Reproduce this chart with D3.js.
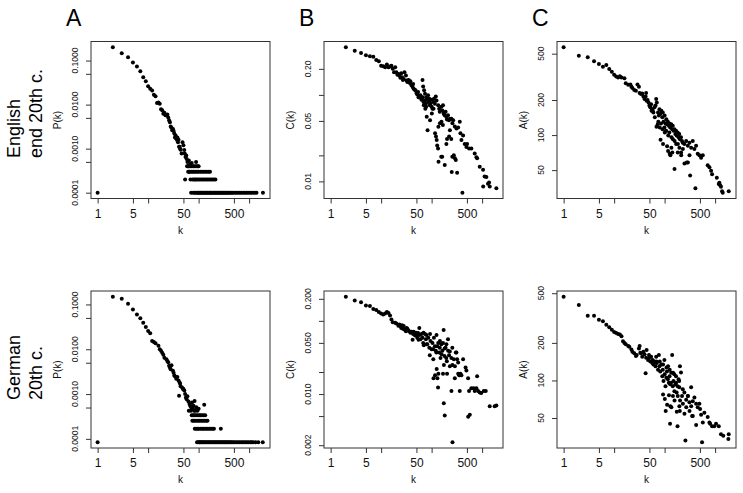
<!DOCTYPE html>
<html>
<head>
<meta charset="utf-8">
<script src="https://cdn.jsdelivr.net/npm/d3@7"></script>
<style>
  body { margin: 0; background: #fff; }
  svg { display: block; font-family: "Liberation Sans", Arial, Helvetica, sans-serif; }
</style>
</head>
<body>
<div id="chart"></div>
<script>
// --- data: [k, value] ---
const xTicks = [1, 5, 10, 50, 100, 500, 1000];
const xLabels = [1, 5, 50, 500];

const pTicks = [0.1, 0.05, 0.01, 0.005, 0.001, 0.0005, 0.0001];
const pLabels = [[0.1, '0.1000'], [0.01, '0.0100'], [0.001, '0.0010'], [0.0001, '0.0001']];
const enCTicks = [0.2, 0.1, 0.05, 0.02, 0.01];
const enCLabels = [[0.2, '0.20'], [0.05, '0.05'], [0.01, '0.01']];
const deCTicks = [0.2, 0.1, 0.05, 0.02, 0.01, 0.005, 0.002];
const deCLabels = [[0.2, '0.200'], [0.05, '0.050'], [0.01, '0.010'], [0.002, '0.002']];
const aTicks = [500, 200, 100, 50];
const aLabels = [[500, '500'], [200, '200'], [100, '100'], [50, '50']];

const rowLabels = [['English', 'end 20th c.'], ['German', '20th c.']];
const colLetters = ['A', 'B', 'C'];
const yTitles = ['P(k)', 'C(k)', 'A(k)'];

const enP = [[1,0.0001],[2,0.2],[3,0.147],[4,0.119],[5,0.09],[6,0.073],[7,0.057],[8,0.042],[9,0.034],[10,0.026],[11,0.023],[12,0.021],[13,0.0168],[14,0.0155],[15,0.0109],[16,0.0112],[17,0.0105],[18,0.0078],[19,0.0074],[20,0.0062],[21,0.0065],[22,0.0057],[24,0.006],[25,0.0051],[26,0.0044],[27,0.004],[28,0.0032],[29,0.003],[30,0.0026],[31,0.0028],[32,0.0025],[33,0.0022],[34,0.0018],[35,0.002],[36,0.0017],[37,0.0016],[38,0.0018],[39,0.0014],[40,0.0016],[41,0.0011],[42,0.0011],[43,0.001],[44,0.00095],[46,0.00078],[48,0.0014],[50,0.0012],[52,0.00093],[53,0.00078],[55,0.00065],[57,0.0007],[58,0.00058],[60,0.0005],[64,0.00054],[68,0.00045],[73,0.00047],[89,0.0005],
  [59,0.0004],[61,0.0004],[63,0.0004],[66,0.0004],[70,0.0004],[74,0.0004],[79,0.0004],[84,0.0004],[90,0.0004],[96,0.0004],[100,0.0004],
  [62,0.0003],[65,0.0003],[67,0.0003],[72,0.0003],[77,0.0003],[81,0.0003],[87,0.0003],[93,0.0003],[99,0.0003],[108,0.0003],[116,0.0003],[125,0.0003],[135,0.0003],[145,0.0003],[157,0.0003],[168,0.0003],
  [54,0.0002],[69,0.0002],[76,0.0002],[82,0.0002],[86,0.0002],[92,0.0002],[98,0.0002],[105,0.0002],[113,0.0002],[121,0.0002],[130,0.0002],[140,0.0002],[150,0.0002],[161,0.0002],[173,0.0002],[186,0.0002],[200,0.0002],[215,0.0002],
  [71,0.0001],[78,0.0001],[83,0.0001],[88,0.0001],[94,0.0001],[97,0.0001],[102,0.0001],[107,0.0001],[111,0.0001],[117,0.0001],[122,0.0001],[128,0.0001],[134,0.0001],[141,0.0001],[147,0.0001],[154,0.0001],[163,0.0001],[170,0.0001],[176,0.0001],[184,0.0001],[193,0.0001],[202,0.0001],[211,0.0001],[221,0.0001],[232,0.0001],[243,0.0001],[254,0.0001],[266,0.0001],[279,0.0001],[292,0.0001],[306,0.0001],[320,0.0001],[336,0.0001],[352,0.0001],[368,0.0001],[386,0.0001],[404,0.0001],[430,0.0001],[455,0.0001],[480,0.0001],[520,0.0001],[560,0.0001],[600,0.0001],[650,0.0001],[700,0.0001],[760,0.0001],[820,0.0001],[880,0.0001],[950,0.0001],[1030,0.0001],[1110,0.0001],[1200,0.0001],[1300,0.0001],[1400,0.0001],[1880,0.0001]];

const enC = [[2,0.355],[3,0.325],[4,0.305],[5,0.287],[6,0.28],[7,0.277],[8,0.254],[9,0.245],[10,0.218],[11,0.215],[12,0.209],[13,0.224],[14,0.209],[15,0.213],[16,0.218],[17,0.2],[18,0.183],[19,0.209],[20,0.183],[21,0.171],[22,0.175],[23,0.168],[24,0.158],[25,0.178],[26,0.16],[27,0.149],[28,0.153],[29,0.183],[31,0.168],[32,0.147],[33,0.141],[35,0.149],[37,0.137],[38,0.144],[40,0.129],[42,0.123],[43,0.134],[44,0.118],[46,0.115],[48,0.113],[50,0.105],[52,0.101],[54,0.108],[57,0.096],[58,0.093],[60,0.099],[63,0.088],[66,0.149],[68,0.125],[71,0.113],[74,0.103],[69,0.083],[73,0.086],[77,0.079],[79,0.094],[82,0.088],[86,0.083],[90,0.09],[92,0.076],[95,0.079],[100,0.073],[104,0.069],[108,0.083],[111,0.09],[116,0.079],[121,0.096],[125,0.086],[135,0.076],[141,0.069],[145,0.064],[156,0.073],[163,0.066],[168,0.076],[173,0.061],[181,0.058],[189,0.064],[195,0.056],[201,0.052],[211,0.058],[221,0.051],[229,0.053],[246,0.053],[258,0.047],[267,0.051],[288,0.043],[310,0.041],[335,0.042],[361,0.049],[372,0.036],[389,0.03],[420,0.034],[452,0.027],[488,0.025],[504,0.027],[551,0.024],[612,0.024],[713,0.021],[771,0.019],[796,0.0185],[897,0.0148],[1044,0.0136],[1120,0.0114],[1215,0.0112],[1306,0.0094],[1373,0.0097],[1414,0.0087],[1050,0.0087],[1915,0.0083],[407,0.0074],
  [80,0.056],[83,0.039],[93,0.051],[101,0.061],[109,0.069],[117,0.036],[122,0.033],[126,0.03],[129,0.026],[134,0.024],[137,0.0169],[155,0.0193],[162,0.0193],[182,0.0155],[196,0.027],[202,0.031],[222,0.033],[230,0.039],[245,0.031],[257,0.0193],[275,0.02],[289,0.0185],[301,0.0177],[250,0.0128],[320,0.0126],[167,0.045],[146,0.047],[136,0.0427],[157,0.049],
  [55,0.094],[67,0.094],[78,0.073],[85,0.099],[91,0.086],[70,0.076],[75,0.069],[99,0.088]];

const enA = [[1,567],[2,481],[3,465],[4,430],[5,408],[6,387],[7,400],[8,370],[9,350],[10,330],[11,319],[12,312],[13,320],[14,312],[16,307],[17,278],[19,270],[21,272],[22,260],[23,254],[25,244],[27,240],[29,272],[31,260],[32,230],[34,225],[36,228],[38,214],[40,204],[42,214],[43,230],[44,197],[46,200],[48,190],[50,179],[52,173],[54,184],[57,167],[58,162],[60,156],[63,173],[66,179],[68,204],[70,190],[74,156],[77,147],[79,167],[82,152],[86,162],[90,142],[92,156],[95,130],[100,147],[104,126],[108,137],[111,124],[116,130],[121,120],[125,126],[129,116],[135,124],[141,112],[145,120],[150,109],[156,112],[163,102],[168,109],[173,99],[181,105],[189,96],[195,102],[201,92],[211,96],[221,89],[229,86],[246,84],[267,89],[288,81],[310,86],[335,78],[361,89],[389,76],[420,81],[452,69],[488,67],[528,64],[570,67],[713,55],[771,53],[832,49.4],[870,46],[1080,43],[1180,38],[1215,39],[1260,37],[1306,36],[1373,33],[1414,32],[1860,33],
  [83,91],[93,84],[112,80],[126,69],[130,67],[136,78],[142,71],[157,51],[182,71],[196,78],[212,71],[230,76],[247,57],[275,58],[289,58],[311,67],[320,45],[407,35],[169,84],[146,92],[117,73],[69,118],[75,130],[80,116],[91,112],[101,105],[118,99],[137,96],[158,89],[183,84],[213,67],
  [55,162],[64,142],[73,124],[85,126],[99,116],[107,109],[124,105]];

const deP = [[1,0.0000843],[2,0.148],[3,0.134],[4,0.103],[5,0.0774],[6,0.06],[7,0.0489],[8,0.0391],[9,0.0313],[10,0.0255],[11,0.0227],[12,0.0153],[13,0.0146],[14,0.0136],[16,0.0119],[17,0.01],[18,0.0092],[19,0.0084],[20,0.0075],[21,0.0065],[23,0.006],[24,0.0055],[25,0.0051],[26,0.0043],[27,0.0039],[28,0.0036],[29,0.0044],[31,0.0033],[32,0.003],[33,0.0026],[34,0.0025],[36,0.0022],[38,0.0024],[40,0.002],[42,0.0018],[43,0.0017],[44,0.0015],[47,0.0014],[49,0.0013],[50,0.0013],[52,0.0012],[41,0.00092],[54,0.001],[56,0.00084],[58,0.00077],[60,0.00089],[63,0.00068],[66,0.0006],[68,0.00055],[71,0.00051],[74,0.00065],[77,0.00047],[79,0.00055],[83,0.0007],[90,0.00051],[129,0.00058],[100,0.00047],
  [64,0.000422],[70,0.000422],[81,0.000422],[86,0.000422],[95,0.000422],
  [73,0.000337],[78,0.000337],[82,0.000337],[88,0.000337],[94,0.000337],[102,0.000337],[108,0.000337],[116,0.000337],[125,0.000337],[135,0.000337],
  [75,0.000253],[80,0.000253],[85,0.000253],[92,0.000253],[99,0.000253],[106,0.000253],[114,0.000253],[122,0.000253],[131,0.000253],[141,0.000253],[150,0.000253],
  [84,0.000169],[89,0.000169],[96,0.000169],[101,0.000169],[109,0.000169],[117,0.000169],[124,0.000169],[133,0.000169],[143,0.000169],[153,0.000169],[164,0.000169],[176,0.000169],[189,0.000169],[201,0.000169],[275,0.000169],
  [93,0.0000843],[97,0.0000843],[103,0.0000843],[105,0.0000843],[110,0.0000843],[115,0.0000843],[120,0.0000843],[126,0.0000843],[132,0.0000843],[138,0.0000843],[145,0.0000843],[152,0.0000843],[159,0.0000843],[167,0.0000843],[175,0.0000843],[184,0.0000843],[193,0.0000843],[202,0.0000843],[212,0.0000843],[222,0.0000843],[233,0.0000843],[245,0.0000843],[257,0.0000843],[270,0.0000843],[283,0.0000843],[297,0.0000843],[312,0.0000843],[327,0.0000843],[343,0.0000843],[360,0.0000843],[378,0.0000843],[397,0.0000843],[417,0.0000843],[438,0.0000843],[460,0.0000843],[490,0.0000843],[520,0.0000843],[560,0.0000843],[600,0.0000843],[640,0.0000843],[690,0.0000843],[740,0.0000843],[790,0.0000843],[850,0.0000843],[910,0.0000843],[980,0.0000843],[1060,0.0000843],[1130,0.0000843],[1200,0.0000843],[1340,0.0000843],[1520,0.0000843],[1860,0.0000843]];

const deC = [[2,0.213],[3,0.19],[4,0.18],[5,0.162],[6,0.16],[7,0.145],[8,0.141],[9,0.132],[10,0.126],[11,0.122],[12,0.126],[13,0.132],[14,0.128],[15,0.118],[16,0.104],[17,0.096],[19,0.094],[20,0.092],[22,0.086],[23,0.089],[24,0.085],[25,0.08],[26,0.087],[27,0.078],[28,0.085],[29,0.076],[31,0.072],[32,0.08],[33,0.078],[34,0.075],[36,0.072],[38,0.069],[40,0.071],[42,0.055],[43,0.066],[44,0.071],[47,0.063],[49,0.069],[50,0.064],[52,0.059],[54,0.068],[57,0.08],[58,0.064],[60,0.056],[63,0.066],[66,0.059],[68,0.05],[70,0.0465],[74,0.066],[77,0.056],[79,0.064],[82,0.048],[86,0.059],[90,0.043],[92,0.034],[95,0.053],[100,0.041],[104,0.05],[108,0.03],[111,0.059],[116,0.045],[121,0.039],[125,0.064],[129,0.045],[135,0.05],[141,0.037],[145,0.043],[150,0.031],[156,0.048],[163,0.039],[173,0.075],[181,0.042],[189,0.043],[195,0.031],[211,0.056],[221,0.034],[229,0.038],[246,0.031],[258,0.025],[275,0.03],[301,0.037],[320,0.03],[335,0.027],[350,0.018],[372,0.019],[389,0.018],[420,0.03],[470,0.023],[488,0.021],[528,0.0164],[551,0.011],[612,0.012],[680,0.012],[713,0.011],[771,0.012],[796,0.0175],[832,0.011],[897,0.0105],[962,0.0103],[1080,0.011],[1180,0.011],[1414,0.0068],[1770,0.0068],[1915,0.007],
  [174,0.0075],[182,0.0051],[259,0.0022],[529,0.0049],[570,0.0052],[126,0.022],[130,0.0164],[109,0.0164],[117,0.018],[136,0.019],[134,0.0123],[168,0.019],[202,0.019],[247,0.011],[361,0.011],[288,0.0164],[336,0.019],[175,0.025],[200,0.028],[230,0.024],[257,0.043],[289,0.024],[310,0.037],[362,0.018],
  [55,0.055],[69,0.069],[80,0.048],[93,0.066],[107,0.041],[124,0.037],[146,0.053],[168,0.05],[196,0.048],[212,0.039],[180,0.033],[157,0.035]];

const deA = [[1,468],[2,402],[3,330],[4,330],[5,306],[6,298],[7,279],[8,267],[9,255],[10,245],[11,240],[12,236],[13,233],[14,226],[15,206],[16,200],[17,195],[19,189],[20,186],[22,177],[23,170],[25,165],[27,157],[28,160],[31,180],[32,189],[33,167],[34,165],[36,155],[38,170],[40,162],[42,114],[43,152],[44,175],[47,146],[49,160],[50,152],[52,142],[54,155],[57,138],[58,146],[60,134],[63,142],[66,130],[68,155],[70,138],[74,122],[77,160],[79,130],[82,118],[86,134],[90,108],[92,122],[95,99],[100,112],[104,90],[108,105],[111,118],[116,102],[121,96],[125,108],[129,93],[135,115],[141,160],[145,90],[150,99],[156,82],[163,93],[168,108],[173,80],[181,90],[189,102],[195,88],[201,130],[211,116],[221,75],[229,85],[246,80],[267,70],[288,75],[310,67],[335,88],[361,68],[389,73],[420,65],[452,61],[488,65],[504,59],[528,53],[570,46],[612,55],[713,51],[771,46],[796,45],[870,43],[962,43],[1044,45],[1180,43],[1306,37],[1450,36],[1860,37],[1830,34],
  [93,77],[101,71],[105,57],[112,64],[122,76],[130,62],[136,61],[146,75],[157,69],[174,56],[182,75],[196,62],[202,69],[230,65],[247,54],[268,61],[289,75],[311,57],[336,62],[362,52],[258,33],[551,32],[421,44],[128,45],[180,43],[350,52],[200,57],
  [69,142],[80,142],[93,134],[109,127],[126,122],[147,115],[169,96],[194,99],[117,130],[99,146],[134,96],[155,112]];

const panels = [
  { row: 0, col: 0, data: enP, ticks: pTicks, labels: pLabels },
  { row: 0, col: 1, data: enC, ticks: enCTicks, labels: enCLabels },
  { row: 0, col: 2, data: enA, ticks: aTicks, labels: aLabels },
  { row: 1, col: 0, data: deP, ticks: pTicks, labels: pLabels },
  { row: 1, col: 1, data: deC, ticks: deCTicks, labels: deCLabels },
  { row: 1, col: 2, data: deA, ticks: aTicks, labels: aLabels },
];

// --- layout ---
const W = 743, H = 493;
const boxW = 179, boxH = 157;
const left0 = 91, colStep = 233, top0 = 41.5, rowStep = 249.5;
const ink = '#000', frame = '#333';

const svg = d3.select('#chart').append('svg').attr('width', W).attr('height', H);

// R-style log range: data extent padded by 4% on each side
function logRange(vals) {
  const e = d3.extent(vals).map(Math.log10);
  const p = (e[1] - e[0]) * 0.04;
  return [10 ** (e[0] - p), 10 ** (e[1] + p)];
}
const allK = panels.flatMap(p => p.data.map(d => d[0]));
const xDomain = logRange(allK);

panels.forEach(p => {
  const x0 = left0 + p.col * colStep, y0 = top0 + p.row * rowStep;
  const g = svg.append('g').attr('transform', `translate(${x0},${y0})`);
  const x = d3.scaleLog().domain(xDomain).range([0, boxW]);
  const y = d3.scaleLog().domain(logRange(p.data.map(d => d[1]))).range([boxH, 0]);

  // x axis
  const xa = g.append('g').attr('transform', `translate(0,${boxH})`)
    .call(d3.axisBottom(x).tickValues(xTicks).tickSize(5).tickSizeOuter(0)
      .tickFormat(d => xLabels.includes(d) ? d : ''));
  xa.select('.domain').remove();
  xa.selectAll('line').attr('stroke', frame);
  xa.selectAll('text').attr('font-size', 12).attr('fill', '#111').attr('dy', null).attr('y', 19)
    .attr('font-family', null);

  // y axis (ticks), labels rotated like R
  const ya = g.append('g')
    .call(d3.axisLeft(y).tickValues(p.ticks).tickSize(5).tickSizeOuter(0).tickFormat(''));
  ya.select('.domain').remove();
  ya.selectAll('line').attr('stroke', frame);
  g.selectAll('text.ylab').data(p.labels).join('text').attr('class', 'ylab')
    .attr('transform', d => `translate(-13,${y(d[0])}) rotate(-90)`)
    .attr('text-anchor', 'middle').attr('font-size', 8.5).attr('fill', '#111')
    .text(d => d[1]);

  // points
  g.append('g').selectAll('circle').data(p.data).join('circle')
    .attr('cx', d => x(d[0])).attr('cy', d => y(d[1])).attr('r', 2).attr('fill', ink);

  // box
  g.append('rect').attr('width', boxW).attr('height', boxH)
    .attr('fill', 'none').attr('stroke', frame).attr('stroke-width', 1);

  // axis titles
  g.append('text').attr('x', boxW / 2).attr('y', boxH + 35).attr('text-anchor', 'middle')
    .attr('font-size', 10).attr('fill', '#111').text('k');
  g.append('text').attr('transform', `translate(-30,${boxH / 2}) rotate(-90)`)
    .attr('text-anchor', 'middle').attr('font-size', 10).attr('fill', '#111').text(yTitles[p.col]);

  if (p.row === 0) {
    g.append('text').attr('x', -25).attr('y', -16).attr('font-size', 23).attr('fill', ink)
      .text(colLetters[p.col]);
  }
});

// row titles
rowLabels.forEach((lines, r) => {
  const yb = 158 + r * 242;
  lines.forEach((t, i) => {
    svg.append('text').attr('transform', `translate(${20 + i * 22},${yb}) rotate(-90)`)
      .attr('font-size', 18).attr('fill', ink).text(t);
  });
});
</script>
</body>
</html>
